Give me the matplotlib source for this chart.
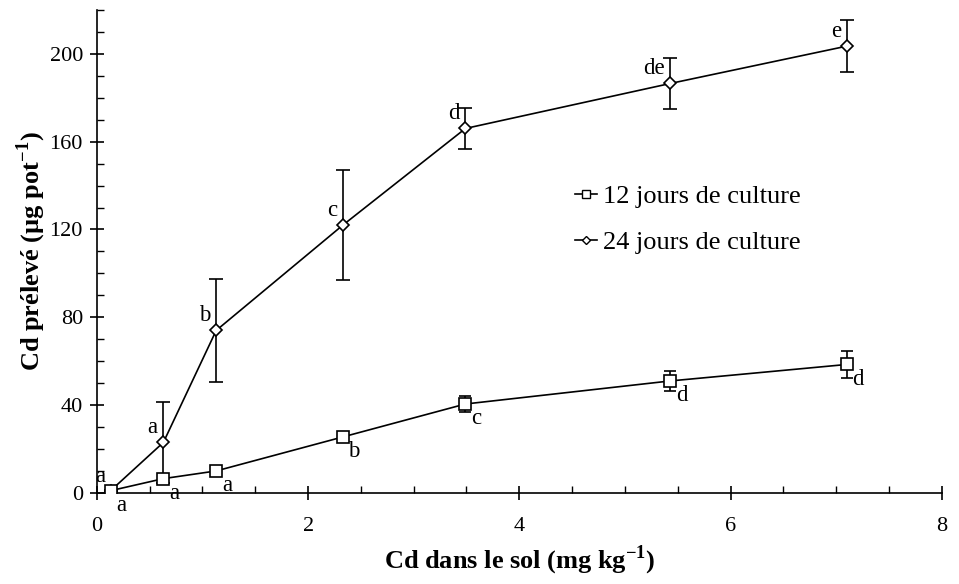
import matplotlib
matplotlib.use("Agg")
import matplotlib.pyplot as plt
from matplotlib.ticker import MultipleLocator
from matplotlib.lines import Line2D

plt.rcParams['font.family'] = ['Liberation Serif', 'DejaVu Serif']
plt.rcParams['mathtext.fontset'] = 'custom'
plt.rcParams['mathtext.rm'] = 'Liberation Serif'
plt.rcParams['mathtext.bf'] = 'Liberation Serif:bold'

cd_sol = [0.13, 0.63, 1.13, 2.33, 3.49, 5.43, 7.10]
j12 = [1.0, 6.5, 10.0, 25.5, 40.5, 51.0, 58.5]
j12_err = [0.5, 1.0, 2.0, 2.0, 3.5, 4.5, 6.0]
j24 = [1.0, 23.0, 74.0, 122.0, 166.0, 186.5, 203.5]
j24_err = [0.5, 18.5, 23.5, 25.0, 9.5, 11.5, 12.0]
lab12 = ['a', 'a', 'a', 'b', 'c', 'd', 'd']
lab24 = ['a', 'a', 'b', 'c', 'd', 'de', 'e']

fig = plt.figure(figsize=(9.59, 5.84), dpi=100)
ax = fig.add_axes([0.101, 0.156, 0.881, 0.827])

ax.errorbar(cd_sol, j24, yerr=j24_err, color='black', lw=1.2, marker='D', ms=6,
            mfc='white', mec='black', mew=1.2, capsize=5, elinewidth=1.2,
            capthick=1.2, zorder=3)
ax.errorbar(cd_sol, j12, yerr=j12_err, color='black', lw=1.2, marker='s', ms=8.5,
            mfc='white', mec='black', mew=1.2, capsize=4, elinewidth=1.2,
            capthick=1.2, zorder=4)

for x, y, t in zip(cd_sol, j12, lab12):
    ax.annotate(t, (x, y), xytext=(4, -3), textcoords='offset points',
                ha='left', va='top', fontsize=16.5)
for x, y, t in zip(cd_sol, j24, lab24):
    ax.annotate(t, (x, y), xytext=(-4, 3), textcoords='offset points',
                ha='right', va='bottom', fontsize=16.5)

ax.set_xlim(0, 8)
ax.set_ylim(0, 220)
ax.set_yticks([0, 40, 80, 120, 160, 200])
ax.set_xticks([0, 2, 4, 6, 8])
ax.xaxis.set_minor_locator(MultipleLocator(0.5))
ax.yaxis.set_minor_locator(MultipleLocator(10))
ax.tick_params(which='major', direction='inout', length=10, width=1.2, labelsize=16)
ax.tick_params(axis='x', which='major', pad=12)
ax.tick_params(axis='y', which='major', pad=5)
ax.tick_params(which='minor', direction='in', length=5, width=1.0)
for s in ['top', 'right']:
    ax.spines[s].set_visible(False)
for s in ['left', 'bottom']:
    ax.spines[s].set_linewidth(1.2)

ax.set_xlabel('Cd dans le sol (mg kg$^{\\mathbf{-1}}$)', fontsize=19, fontweight='bold', labelpad=6)
ax.set_ylabel('Cd prélevé (µg pot$^{\\mathbf{-1}}$)', fontsize=19, fontweight='bold', labelpad=1)

h12 = Line2D([], [], color='black', lw=1.2, marker='s', ms=6, mfc='white', mec='black', mew=1.0)
h24 = Line2D([], [], color='black', lw=1.2, marker='D', ms=4.5, mfc='white', mec='black', mew=1.0)
ax.legend([h12, h24], ['12 jours de culture', '24 jours de culture'],
          loc='center left', bbox_to_anchor=(0.566, 0.567),
          frameon=False, fontsize=19, handlelength=0.85, handletextpad=0.2,
          labelspacing=0.85, borderpad=0, borderaxespad=0)

fig.savefig('out.png', dpi=100)
